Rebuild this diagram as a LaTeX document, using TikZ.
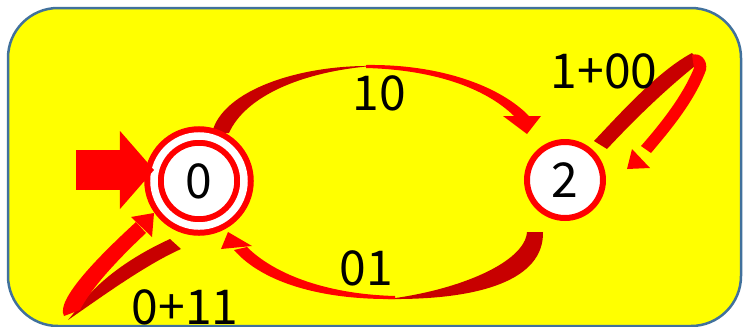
\documentclass[tikz,border=0pt]{standalone}
\usepackage{fontspec}
\newfontfamily\jpfont{Noto Sans CJK JP}
\usepackage{tikz}
\usetikzlibrary{arrows.meta}
\definecolor{ribred}{RGB}{255,0,0}
\definecolor{ribdark}{RGB}{200,0,0}
\definecolor{boxedge}{RGB}{65,113,156}
\definecolor{boxfill}{RGB}{255,255,0}

\begin{document}
\begin{tikzpicture}[x=0.03cm,y=-0.03cm,
  every node/.style={font=\jpfont\fontsize{41}{41}\selectfont},
  state/.style={circle,draw=ribred,fill=white,line width=0.18cm,minimum size=2.28cm,inner sep=0pt,outer sep=0pt},
  accept/.style={state,double=white,double distance=0.225cm,minimum size=2.7cm},
  lbl/.style={inner sep=0pt}]
\useasboundingbox (0,0) rectangle (743,326);
\draw[boxedge,line width=0.075cm,fill=boxfill,rounded corners=1.5cm] (8,8) rectangle (741,326);

% 0 -> 2, label 10
\fill[ribdark] (212,133) .. controls (222,90) and (300,65) .. (372,66) .. controls (300,72) and (245,97) .. (229,133) -- cycle;
\fill[ribred] (366,65) .. controls (440,64) and (500,86) .. (529,116) -- (516,118) .. controls (490,91) and (440,70) .. (366,68) -- cycle;
\fill[ribred] (503,116) -- (541,116) -- (527,134) -- cycle;
% 2 -> 0, label 01
\fill[ribdark] (543,232) .. controls (544,280) and (480,300) .. (388,299) .. controls (460,290) and (525,262) .. (527,232) -- cycle;
\fill[ribred] (395,299) .. controls (320,300) and (262,282) .. (234,250) -- (247,247) .. controls (272,272) and (322,294) .. (395,296) -- cycle;
\fill[ribred] (221,249) -- (252,246) -- (228,232) -- cycle;
% loop on 0
\fill[ribdark] (68,320) .. controls (100,298) and (145,265) .. (181,249) -- (170,239) .. controls (135,255) and (100,278) .. (78,308) -- cycle;
\fill[ribred] (64,316) .. controls (55,300) and (100,255) .. (136,222) -- (146,233) .. controls (115,262) and (90,290) .. (80,310) -- cycle;
\fill[ribred] (131,217) -- (154,213) -- (152,237) -- cycle;
% loop on 2
\fill[ribdark] (594,141) .. controls (625,108) and (660,70) .. (692,53) -- (700,62) .. controls (667,88) and (636,118) .. (607,149) -- cycle;
\fill[ribred] (692,55) .. controls (700,52) and (708,60) .. (706,70) .. controls (695,100) and (673,127) .. (651,153) -- (641,146) .. controls (662,122) and (683,95) .. (694,68) -- cycle;
\fill[ribred] (632,149) -- (650,168) -- (627,169) -- cycle;

\node[accept] (q0) at (199,181) {0};
\node[state] (q2) at (565,180) {2};
\coordinate (init) at (76,170);
\draw[ribred,line width=1.2cm,-{Triangle[length=1.02cm,width=2.34cm,line width=0pt]}] (init) -- (init -| q0.west);

\node[lbl] (l10) at (379,93) {10};
\node[lbl] (l01) at (366,268) {01};
\node[lbl] (l100) at (604,71) {1+00};
\node[lbl] (l011) at (185,307) {0+11};
\end{tikzpicture}
\end{document}
